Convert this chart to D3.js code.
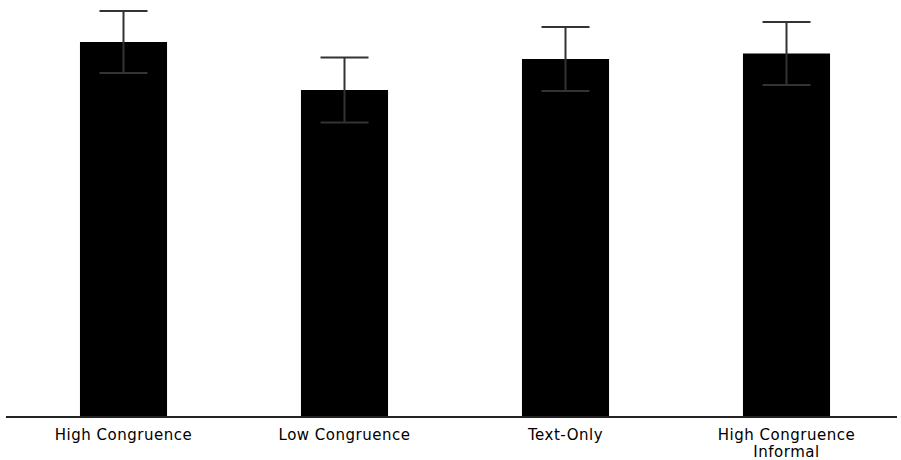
<!DOCTYPE html>
<html>
<head>
<meta charset="utf-8">
<script src="https://cdn.jsdelivr.net/npm/d3@7"></script>
<style>
  html, body { margin: 0; padding: 0; background: #fff; }
  svg { display: block; }
</style>
</head>
<body>
<svg id="chart" width="901" height="460"></svg>
<script>
// Condition means with standard-error half-widths
const categories = ["High Congruence", "Low Congruence", "Text-Only", "High Congruence\nInformal"];
const means = [3.75, 3.27, 3.58, 3.635];
const errors = [0.31, 0.325, 0.32, 0.315];

const svg = d3.select("#chart");
const baseY = 417;

const x = d3.scaleBand()
  .domain(categories)
  .range([13, 897])
  .paddingInner(0.606)
  .paddingOuter(0.303);

const y = d3.scaleLinear()
  .domain([0, 4.17])
  .range([baseY, 0]);

const data = categories.map((c, i) => ({ c, m: means[i], e: errors[i] }));

// Bars
svg.append("g").selectAll("rect")
  .data(data)
  .join("rect")
  .attr("x", d => x(d.c))
  .attr("y", d => y(d.m))
  .attr("width", x.bandwidth())
  .attr("height", d => y(0) - y(d.m))
  .attr("fill", "#000");

// Error bars
const capHalf = 24;
const eb = svg.append("g")
  .attr("stroke", "#333")
  .attr("stroke-width", 2);
data.forEach(d => {
  const cx = x(d.c) + x.bandwidth() / 2;
  eb.append("line")
    .attr("x1", cx).attr("x2", cx)
    .attr("y1", y(d.m + d.e)).attr("y2", y(d.m - d.e));
  eb.append("line")
    .attr("x1", cx - capHalf).attr("x2", cx + capHalf)
    .attr("y1", y(d.m + d.e)).attr("y2", y(d.m + d.e));
  eb.append("line")
    .attr("x1", cx - capHalf).attr("x2", cx + capHalf)
    .attr("y1", y(d.m - d.e)).attr("y2", y(d.m - d.e));
});

// Baseline (x axis without ticks)
const axis = d3.axisBottom(x).tickSize(0).tickFormat("");
const ax = svg.append("g")
  .attr("transform", `translate(0,${baseY})`)
  .call(axis);
ax.select(".domain").remove();
ax.append("line")
  .attr("x1", 6).attr("x2", 897)
  .attr("stroke", "#222")
  .attr("stroke-width", 2);

// Category labels
const labels = svg.append("g")
  .attr("font-family", "'DejaVu Sans', sans-serif")
  .attr("font-size", 15)
  .attr("letter-spacing", "0.5px")
  .attr("fill", "#000")
  .attr("text-anchor", "middle");
data.forEach(d => {
  const cx = x(d.c) + x.bandwidth() / 2;
  const t = labels.append("text")
    .attr("x", cx)
    .attr("y", 439.5);
  d.c.split("\n").forEach((line, i) => {
    t.append("tspan")
      .attr("x", cx)
      .attr("dy", i === 0 ? 0 : 17.5)
      .text(line);
  });
});
</script>
</body>
</html>
